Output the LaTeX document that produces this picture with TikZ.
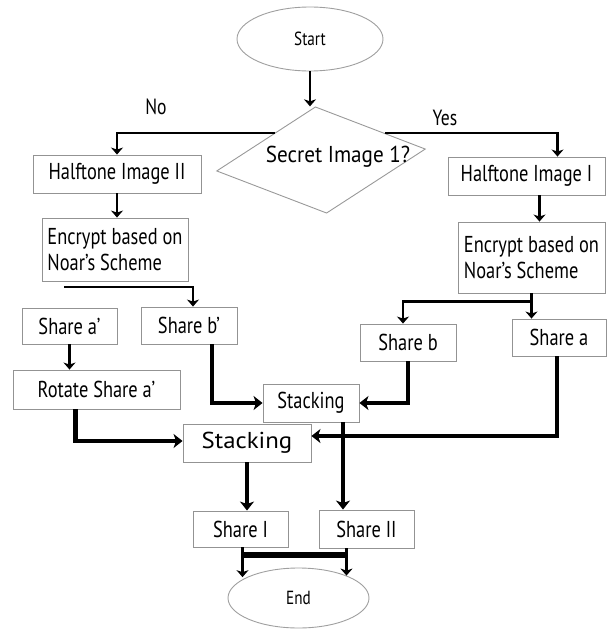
\documentclass[tikz,border=0pt]{standalone}
\usepackage{fontspec}
\usepackage{tikz}
\usetikzlibrary{positioning,shapes.geometric,arrows.meta,calc}
\newfontfamily\narrowfont[FakeStretch=0.8]{PT Sans}
\newfontfamily\midfont[FakeStretch=0.92]{PT Sans}
\newfontfamily\widefont[FakeStretch=1.08]{PT Sans}
\tikzset{
  proc/.style={rectangle, draw=gray!85, line width=0.9pt, inner sep=0pt, align=left, font=\narrowfont\fontsize{23}{26}\selectfont},
  term/.style={ellipse, draw=gray!75, line width=0.9pt, inner sep=0pt, font=\narrowfont\fontsize{19}{20}\selectfont},
  decision/.style={diamond, draw=gray!80, line width=0.9pt, inner sep=0pt},
  tag/.style={inner sep=0pt, font=\narrowfont\fontsize{22}{24}\selectfont},
  dims/.style 2 args={minimum width=#1pt, minimum height=#2pt},
  flow/.style={-{Stealth[length=7pt,width=12pt,inset=2pt]}, line width=2.2pt},
  heavy/.style={-{Stealth[length=9pt,width=14pt,inset=2.5pt]}, line width=4.5pt},
  bus/.style={line width=6pt},
}

\begin{document}
\begin{tikzpicture}[x=1pt, y=-1pt]
  \useasboundingbox (0,0) rectangle (606,629);

  \node[term, dims={146}{64}] (start) at (310,39) {Start};
  \node[decision, dims={210}{107}, rotate=6] (dec) at (321,160) {};
  \node[tag, font=\midfont\fontsize{23}{24}\selectfont] (dectext) at (338,157) {Secret Image 1?};
  \node[tag] (no) at (156,107) {No};
  \node[tag] (yes) at (445,118) {Yes};

  \node[proc, dims={168}{38}] (ht2) at (117,174) {Halftone Image II};
  \node[proc, dims={157}{38}] (ht1) at (526.5,176) {Halftone Image I};
  \node[proc, dims={146}{63}] (enc2) at (115,249.5) {Encrypt based on\\Noar’s Scheme};
  \node[proc, dims={147}{71}] (enc1) at (531.5,257.5) {Encrypt based on\\Noar’s Scheme};

  \node[proc, dims={95}{36}] (sa2) at (69.5,326) {Share a’};
  \node[proc, dims={96}{37}] (sb2) at (189,325.5) {Share b’};
  \node[proc, dims={167}{39}] (rot) at (96.5,389.5) {Rotate Share a’};
  \node[proc, dims={96}{37}] (sb) at (408,342.5) {Share b};
  \node[proc, dims={94}{37}] (sa) at (559,337.5) {Share a};

  \node[proc, dims={96}{38}] (stk1) at (311,403) {Stacking};
  \node[proc, dims={128}{38}, font=\widefont\fontsize{23}{26}\selectfont] (stk2) at (247,443) {Stacking};
  \node[proc, dims={95}{36}] (sh1) at (240.5,529) {Share I};
  \node[proc, dims={95}{38}] (sh2) at (366.5,529) {Share II};
  \node[term, dims={141}{60}] (end) at (298.5,598) {End};

  % thin connectors
  \draw[flow] (start.south) -- (start.south |- dec.north);
  \draw[flow] ($(dec.north)!0.41!(dec.west)$) -| (ht2.north);
  \draw[flow] ($(dec.north)!0.63!(dec.east)$) -| ([xshift=31pt]ht1.north);
  \draw[flow] (ht2.south) -- (ht2.south |- enc2.north);
  \coordinate (ht1out) at ([xshift=13pt]ht1.south);
  \draw[flow] (ht1out) -- (ht1out |- enc1.north);
  \coordinate (enc2out) at (64,287);
  \draw[flow] (enc2out) -| ([xshift=4pt]sb2.north);
  \draw[flow] (sa2.south) -- (sa2.south |- rot.north);
  \draw[flow] (enc1.south) -- ++(0,8) -| ([xshift=-5pt]sb.north);
  \draw[flow] (enc1.south) -- (enc1.south |- sa.north);

  % thick connectors
  \draw[heavy] ([xshift=23pt]sb2.south) |- (stk1.west);
  \draw[heavy] (sb.south) |- (stk1.east);
  \draw[heavy] ([xshift=-21pt]rot.south) |- ([yshift=2pt]stk2.west);
  \draw[heavy] ([xshift=-2pt]sa.south) |- ([yshift=7pt]stk2.east);
  \coordinate (stk1out) at ([xshift=32pt]stk1.south);
  \draw[heavy] (stk1out) -- (stk1out |- sh2.north);
  \draw[heavy, line width=3.5pt] (stk2.south) -- (stk2.south |- sh1.north);

  \coordinate (sh1out) at ([xshift=2pt]sh1.south);
  \coordinate (sh2out) at ([xshift=-20pt]sh2.south);
  \draw[flow] (sh1out) -- (sh1out |- end.158);
  \draw[flow] (sh2out) -- (sh2out |- end.25);
  \draw[bus] ($(sh1out)+(0,8)$) coordinate (bus1) -- (bus1 -| sh2out);
\end{tikzpicture}
\end{document}
